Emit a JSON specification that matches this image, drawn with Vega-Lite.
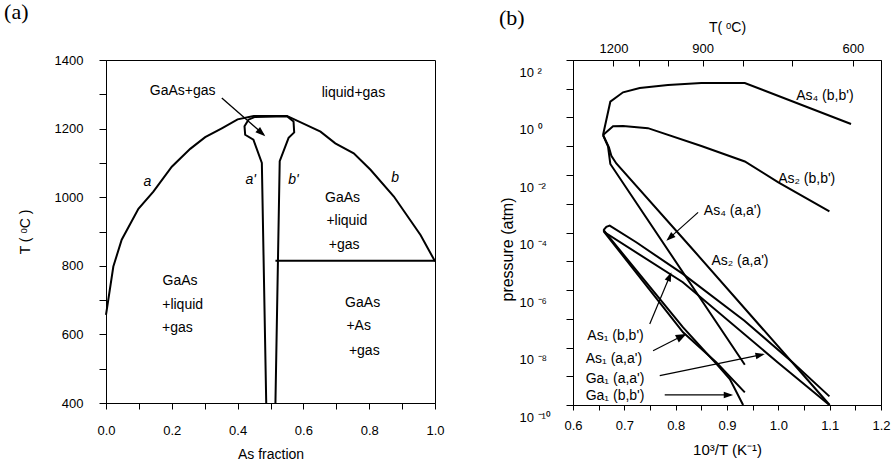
{
  "$schema": "https://vega.github.io/schema/vega-lite/v6.json",
  "padding": {"left": 3, "top": 0, "right": 2, "bottom": 2},
  "spacing": 53,
  "config": {
    "font": "Liberation Sans",
    "view": {"stroke": "black", "strokeWidth": 1},
    "axis": {"labelFont": "Liberation Sans", "labelFontSize": 13, "labelColor": "black", "titleFont": "Liberation Sans", "titleFontSize": 14, "titleFontWeight": "normal", "titleColor": "black", "domainColor": "black", "tickColor": "black", "grid": false, "labelFlush": false, "labelOverlap": false},
    "title": {"font": "Liberation Serif", "fontSize": 22, "fontWeight": "normal", "color": "black", "anchor": "start"}
  },
  "datasets": {
    "a_curves": [
      {"s": "L", "i": 0, "x": 0.0, "y": 657},
      {"s": "L", "i": 1, "x": 0.0223, "y": 798},
      {"s": "L", "i": 2, "x": 0.0477, "y": 876},
      {"s": "L", "i": 3, "x": 0.0985, "y": 966},
      {"s": "L", "i": 4, "x": 0.144, "y": 1016},
      {"s": "L", "i": 5, "x": 0.2, "y": 1089},
      {"s": "L", "i": 6, "x": 0.256, "y": 1141},
      {"s": "L", "i": 7, "x": 0.3015, "y": 1175},
      {"s": "L", "i": 8, "x": 0.352, "y": 1201},
      {"s": "L", "i": 9, "x": 0.4, "y": 1227},
      {"s": "L", "i": 10, "x": 0.449, "y": 1237},
      {"s": "L", "i": 11, "x": 0.55, "y": 1237},
      {"s": "L", "i": 12, "x": 0.652, "y": 1191},
      {"s": "L", "i": 13, "x": 0.697, "y": 1157},
      {"s": "L", "i": 14, "x": 0.753, "y": 1128},
      {"s": "L", "i": 15, "x": 0.804, "y": 1080},
      {"s": "L", "i": 16, "x": 0.875, "y": 1002},
      {"s": "L", "i": 17, "x": 0.956, "y": 890},
      {"s": "L", "i": 18, "x": 1.0, "y": 813},
      {"s": "I", "i": 0, "x": 0.487, "y": 400},
      {"s": "I", "i": 1, "x": 0.4737, "y": 1100},
      {"s": "I", "i": 2, "x": 0.448, "y": 1168},
      {"s": "I", "i": 3, "x": 0.423, "y": 1182},
      {"s": "I", "i": 4, "x": 0.421, "y": 1207},
      {"s": "I", "i": 5, "x": 0.433, "y": 1226},
      {"s": "I", "i": 6, "x": 0.453, "y": 1234},
      {"s": "I", "i": 7, "x": 0.55, "y": 1236},
      {"s": "I", "i": 8, "x": 0.57, "y": 1221},
      {"s": "I", "i": 9, "x": 0.572, "y": 1189},
      {"s": "I", "i": 10, "x": 0.555, "y": 1173},
      {"s": "I", "i": 11, "x": 0.528, "y": 1105},
      {"s": "I", "i": 12, "x": 0.515, "y": 400},
      {"s": "E", "i": 0, "x": 0.515, "y": 815},
      {"s": "E", "i": 1, "x": 1.0, "y": 815}
    ],
    "a_arrow": [
      {"i": 0, "x": 0.352, "y": 1289},
      {"i": 1, "x": 0.48, "y": 1182}
    ],
    "a_head": [{"x": 0.484, "y": 1178}],
    "a_text": [
      {"t": "GaAs+gas", "x": 0.233, "y": 1309},
      {"t": "liquid+gas", "x": 0.752, "y": 1304},
      {"t": "GaAs", "x": 0.719, "y": 998},
      {"t": "+liquid", "x": 0.732, "y": 930},
      {"t": "+gas", "x": 0.724, "y": 861},
      {"t": "GaAs", "x": 0.225, "y": 755},
      {"t": "+liquid", "x": 0.233, "y": 687},
      {"t": "+gas", "x": 0.217, "y": 619},
      {"t": "GaAs", "x": 0.78, "y": 691},
      {"t": "+As", "x": 0.768, "y": 624},
      {"t": "+gas", "x": 0.785, "y": 551}
    ],
    "a_ital": [
      {"t": "a", "x": 0.126, "y": 1043},
      {"t": "a'", "x": 0.44, "y": 1049},
      {"t": "b'", "x": 0.57, "y": 1049},
      {"t": "b", "x": 0.879, "y": 1056}
    ],
    "b_curves": [
      {"s": "As4b", "i": 0, "x": 0.6585, "y": -0.609},
      {"s": "As4b", "i": 1, "x": 0.6727, "y": 0.55},
      {"s": "As4b", "i": 2, "x": 0.6975, "y": 0.876},
      {"s": "As4b", "i": 3, "x": 0.73, "y": 1.026},
      {"s": "As4b", "i": 4, "x": 0.785, "y": 1.13},
      {"s": "As4b", "i": 5, "x": 0.85, "y": 1.2},
      {"s": "As4b", "i": 6, "x": 0.9347, "y": 1.2},
      {"s": "As4b", "i": 7, "x": 1.1416, "y": -0.226},
      {"s": "As2b", "i": 0, "x": 0.6585, "y": -0.609},
      {"s": "As2b", "i": 1, "x": 0.678, "y": -0.306},
      {"s": "As2b", "i": 2, "x": 0.6975, "y": -0.296},
      {"s": "As2b", "i": 3, "x": 0.746, "y": -0.37},
      {"s": "As2b", "i": 4, "x": 0.85, "y": -0.99},
      {"s": "As2b", "i": 5, "x": 0.9347, "y": -1.53},
      {"s": "As2b", "i": 6, "x": 1.0, "y": -2.255},
      {"s": "As2b", "i": 7, "x": 1.0995, "y": -3.264},
      {"s": "As4a", "i": 0, "x": 0.6585, "y": -0.609},
      {"s": "As4a", "i": 1, "x": 0.6682, "y": -1.0},
      {"s": "As4a", "i": 2, "x": 0.6727, "y": -1.617},
      {"s": "As4a", "i": 3, "x": 0.9347, "y": -8.6},
      {"s": "As2a", "i": 0, "x": 0.6585, "y": -0.609},
      {"s": "As2a", "i": 1, "x": 0.67, "y": -1.04},
      {"s": "As2a", "i": 2, "x": 0.6747, "y": -1.33},
      {"s": "As2a", "i": 3, "x": 0.6844, "y": -1.6},
      {"s": "As2a", "i": 4, "x": 0.8339, "y": -4.6},
      {"s": "As2a", "i": 5, "x": 1.1, "y": -10.0},
      {"s": "Up", "i": 0, "x": 0.6594, "y": -3.92},
      {"s": "Up", "i": 1, "x": 0.665, "y": -3.8},
      {"s": "Up", "i": 2, "x": 0.6715, "y": -3.76},
      {"s": "Up", "i": 3, "x": 0.7232, "y": -4.34},
      {"s": "Up", "i": 4, "x": 0.814, "y": -5.44},
      {"s": "Up", "i": 5, "x": 0.934, "y": -7.07},
      {"s": "Up", "i": 6, "x": 1.028, "y": -8.52},
      {"s": "Up", "i": 7, "x": 1.0995, "y": -9.7},
      {"s": "Lo", "i": 0, "x": 0.6594, "y": -3.92},
      {"s": "Lo", "i": 1, "x": 0.664, "y": -4.02},
      {"s": "Lo", "i": 2, "x": 0.814, "y": -5.73},
      {"s": "Lo", "i": 3, "x": 0.999, "y": -8.52},
      {"s": "Lo", "i": 4, "x": 1.0995, "y": -10.0},
      {"s": "GaA", "i": 0, "x": 0.6594, "y": -3.92},
      {"s": "GaA", "i": 1, "x": 0.8144, "y": -7.3},
      {"s": "GaA", "i": 2, "x": 0.8794, "y": -8.57},
      {"s": "GaA", "i": 3, "x": 0.9055, "y": -9.1},
      {"s": "GaA", "i": 4, "x": 0.9314, "y": -10.0},
      {"s": "GaB", "i": 0, "x": 0.6594, "y": -3.95},
      {"s": "GaB", "i": 1, "x": 0.8144, "y": -7.47},
      {"s": "GaB", "i": 2, "x": 0.8794, "y": -8.52},
      {"s": "GaB", "i": 3, "x": 0.9347, "y": -9.56}
    ],
    "b_arrows": [
      {"s": "arr1", "i": 0, "x": 0.7495, "y": -7.18},
      {"s": "arr1", "i": 1, "x": 0.79, "y": -5.45},
      {"s": "arr2", "i": 0, "x": 0.756, "y": -8.11},
      {"s": "arr2", "i": 1, "x": 0.818, "y": -7.55},
      {"s": "arr3", "i": 0, "x": 0.769, "y": -8.98},
      {"s": "arr3", "i": 1, "x": 0.97, "y": -8.24},
      {"s": "arr4", "i": 0, "x": 0.7787, "y": -9.65},
      {"s": "arr4", "i": 1, "x": 0.908, "y": -9.65},
      {"s": "arr5", "i": 0, "x": 0.8437, "y": -3.3},
      {"s": "arr5", "i": 1, "x": 0.785, "y": -4.24}
    ],
    "b_heads": [
      {"s": "arr1", "x": 0.7916, "y": -5.38},
      {"s": "arr2", "x": 0.8209, "y": -7.53},
      {"s": "arr3", "x": 0.9737, "y": -8.23},
      {"s": "arr4", "x": 0.9119, "y": -9.65},
      {"s": "arr5", "x": 0.7819, "y": -4.285}
    ],
    "b_text": [
      {"t": "As₄ (b,b')", "x": 1.0347, "y": 0.758},
      {"t": "As₂ (b,b')", "x": 0.9996, "y": -2.139},
      {"t": "As₄ (a,a')", "x": 0.8548, "y": -3.242},
      {"t": "As₂ (a,a')", "x": 0.8696, "y": -4.981},
      {"t": "As₁ (b,b')", "x": 0.6279, "y": -7.589},
      {"t": "As₁ (a,a')", "x": 0.6247, "y": -8.4},
      {"t": "Ga₁ (a,a')", "x": 0.6247, "y": -9.096},
      {"t": "Ga₁ (b,b')", "x": 0.6247, "y": -9.677}
    ]
  },
  "hconcat": [
    {
      "width": 329,
      "height": 343,
      "title": {"text": "(a)", "dx": -14, "offset": 30},
      "encoding": {
        "x": {"field": "x", "type": "quantitative", "scale": {"domain": [0, 1], "nice": false, "zero": false},
          "axis": {"title": "As fraction", "values": [0, 0.1, 0.2, 0.3, 0.4, 0.5, 0.6, 0.7, 0.8, 0.9, 1], "labelExpr": "round(datum.value*10)%2==0?format(datum.value,'.1f'):''", "tickSize": 6, "labelPadding": 15, "titlePadding": 10}},
        "y": {"field": "y", "type": "quantitative", "scale": {"domain": [400, 1400], "nice": false, "zero": false},
          "axis": {"title": "T ( ᵒC )", "values": [400, 500, 600, 700, 800, 900, 1000, 1100, 1200, 1300, 1400], "format": "d", "labelExpr": "datum.value%200==0?datum.label:''", "tickSize": 7, "labelPadding": 16, "titlePadding": 22}}
      },
      "layer": [
        {"data": {"name": "a_curves"}, "mark": {"type": "line", "color": "black", "strokeWidth": 2}, "encoding": {"detail": {"field": "s", "type": "nominal"}, "order": {"field": "i", "type": "quantitative"}}},
        {"data": {"name": "a_arrow"}, "mark": {"type": "line", "color": "black", "strokeWidth": 1.3}, "encoding": {"order": {"field": "i", "type": "quantitative"}}},
        {"data": {"name": "a_head"}, "mark": {"type": "point", "shape": "M0,0L-1,-0.35L-1,0.35Z", "filled": true, "color": "black", "opacity": 1, "size": 400, "angle": 41.5}},
        {"data": {"name": "a_text"}, "mark": {"type": "text", "fontSize": 14, "color": "black"}, "encoding": {"text": {"field": "t", "type": "nominal"}}},
        {"data": {"name": "a_ital"}, "mark": {"type": "text", "fontSize": 14, "fontStyle": "italic", "color": "black"}, "encoding": {"text": {"field": "t", "type": "nominal"}}}
      ]
    },
    {
      "width": 308,
      "height": 345,
      "title": {"text": "(b)", "offset": -10},
      "resolve": {"axis": {"x": "independent"}},
      "encoding": {
        "x": {"field": "x", "type": "quantitative", "scale": {"domain": [0.6, 1.2], "nice": false, "zero": false}, "axis": null},
        "y": {"field": "y", "type": "quantitative", "scale": {"domain": [-10, 2], "nice": false, "zero": false},
          "axis": {"title": "pressure (atm)", "titleFontSize": 16, "values": [-10, -9, -8, -7, -6, -5, -4, -3, -2, -1, 0, 1, 2], "labelExpr": "datum.value==2?'10 ²':datum.value==0?'10 ⁰':datum.value==-2?'10 ⁻²':datum.value==-4?'10 ⁻⁴':datum.value==-6?'10 ⁻⁶':datum.value==-8?'10 ⁻⁸':datum.value==-10?'10 ⁻¹⁰':''", "tickSize": 7, "labelAlign": "left", "labelPadding": 47, "labelOffset": 12, "titlePadding": 4, "titleY": 189}}
      },
      "layer": [
        {"data": {"name": "b_curves"}, "mark": {"type": "line", "color": "black", "strokeWidth": 2},
          "encoding": {
            "x": {"field": "x", "type": "quantitative", "scale": {"domain": [0.6, 1.2], "nice": false, "zero": false},
              "axis": {"title": "10³/T (K⁻¹)", "titleFontSize": 15, "values": [0.6, 0.65, 0.7, 0.75, 0.8, 0.85, 0.9, 0.95, 1.0, 1.05, 1.1, 1.15, 1.2], "labelExpr": "abs(datum.value*10-round(datum.value*10))<0.01?format(datum.value,'.1f'):''", "tickSize": 5, "labelPadding": 9, "titlePadding": 10}},
            "detail": {"field": "s", "type": "nominal"}, "order": {"field": "i", "type": "quantitative"}}},
        {"data": {"name": "b_arrows"}, "mark": {"type": "line", "color": "black", "strokeWidth": 1.2}, "encoding": {"detail": {"field": "s", "type": "nominal"}, "order": {"field": "i", "type": "quantitative"}}},
        {"data": {"name": "b_heads"}, "transform": [{"filter": "datum.s=='arr1'"}], "mark": {"type": "point", "shape": "M0,0L-1,-0.35L-1,0.35Z", "filled": true, "color": "black", "opacity": 1, "size": 350, "angle": 292.7}},
        {"data": {"name": "b_heads"}, "transform": [{"filter": "datum.s=='arr2'"}], "mark": {"type": "point", "shape": "M0,0L-1,-0.4L-1,0.4Z", "filled": true, "color": "black", "opacity": 1, "size": 450, "angle": 333.4}},
        {"data": {"name": "b_heads"}, "transform": [{"filter": "datum.s=='arr3'"}], "mark": {"type": "point", "shape": "M0,0L-1,-0.35L-1,0.35Z", "filled": true, "color": "black", "opacity": 1, "size": 350, "angle": 348.3}},
        {"data": {"name": "b_heads"}, "transform": [{"filter": "datum.s=='arr4'"}], "mark": {"type": "point", "shape": "M0,0L-1,-0.35L-1,0.35Z", "filled": true, "color": "black", "opacity": 1, "size": 350, "angle": 0}},
        {"data": {"name": "b_heads"}, "transform": [{"filter": "datum.s=='arr5'"}], "mark": {"type": "point", "shape": "M0,0L-1,-0.35L-1,0.35Z", "filled": true, "color": "black", "opacity": 1, "size": 350, "angle": 138.1}},
        {"data": {"name": "b_text"}, "mark": {"type": "text", "fontSize": 14, "align": "left", "color": "black"},
          "encoding": {
            "text": {"field": "t", "type": "nominal"},
            "x": {"field": "x", "type": "quantitative", "scale": {"domain": [0.6, 1.2], "nice": false, "zero": false},
              "axis": {"orient": "top", "title": "T( ᵒC)", "values": [0.67882, 0.72825, 0.78545, 0.85241, 0.93184, 1.02759, 1.14528], "labelExpr": "datum.value<0.7?'1200':(datum.value>0.85&&datum.value<0.86?'900':(datum.value>1.1?'600':''))", "tickSize": -6, "labelPadding": 11, "titlePadding": 8}}}}
      ]
    }
  ]
}
